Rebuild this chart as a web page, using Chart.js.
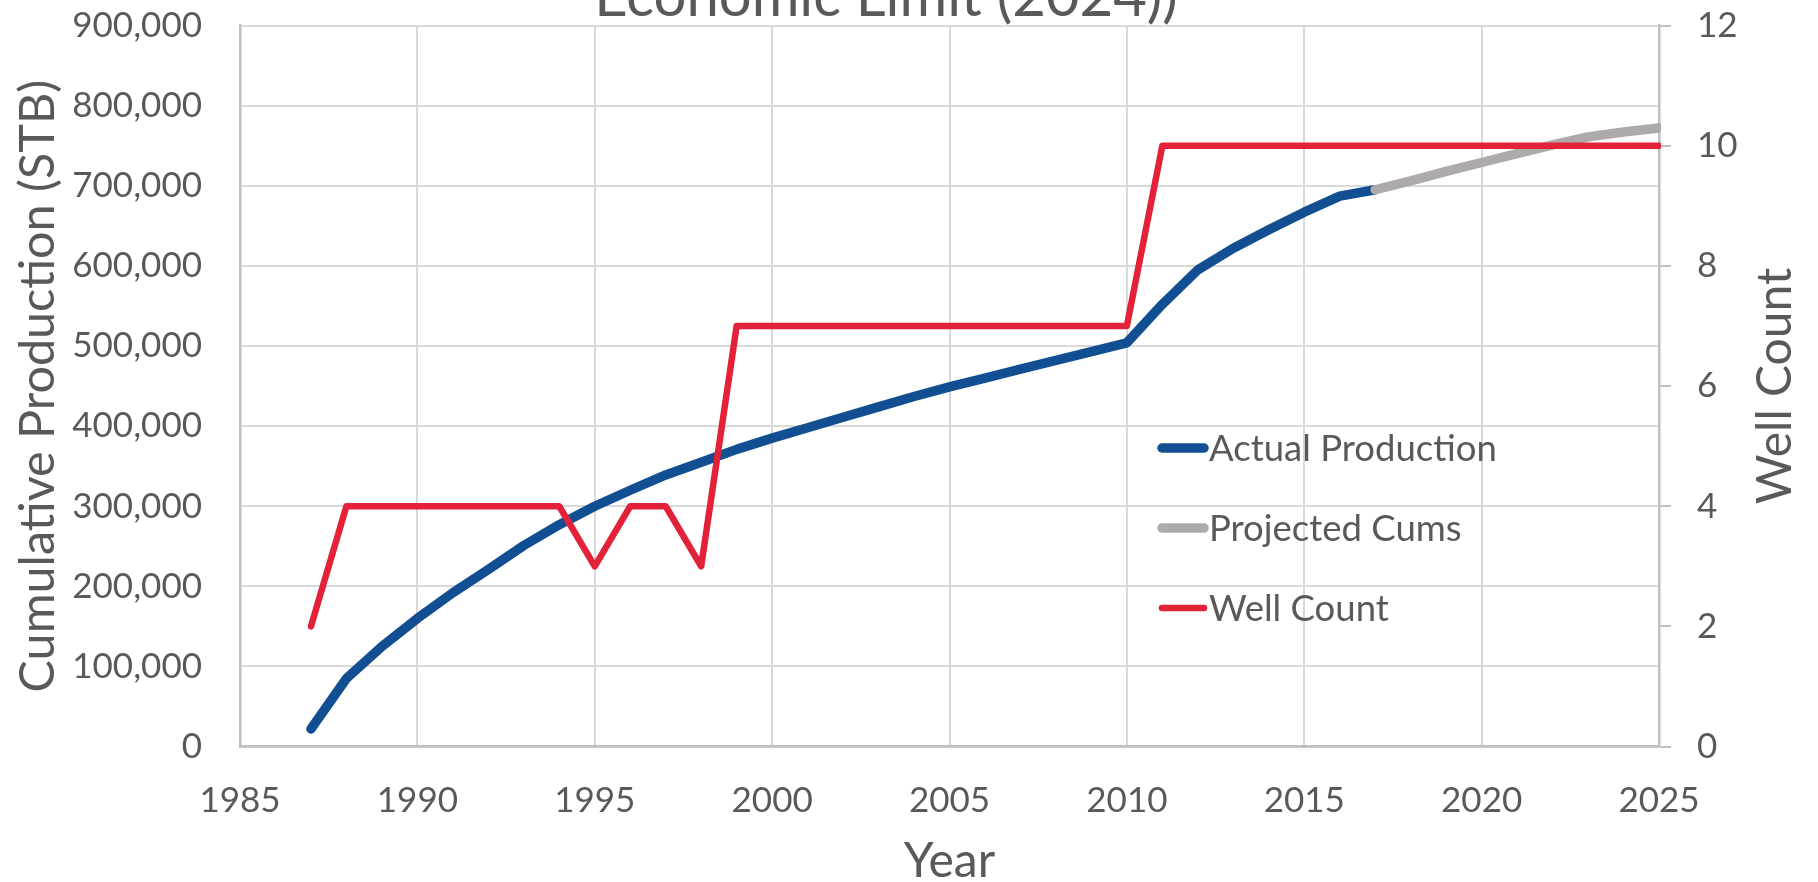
<!DOCTYPE html>
<html>
<head>
<meta charset="utf-8">
<title>Cumulative Production and Well Count</title>
<script src="https://cdn.jsdelivr.net/npm/chart.js@4.4.1/dist/chart.umd.min.js"></script>
<style>
  html, body { margin: 0; padding: 0; background: #ffffff; }
  #wrap { position: relative; width: 1818px; height: 882px; }
</style>
</head>
<body>
<div id="wrap"><canvas id="prodChart"></canvas></div>
<script>
// ── Data ───────────────────────────────────────────────────────────────────────

const actualYears = [1987, 1988, 1989, 1990, 1991, 1992, 1993, 1994, 1995, 1996,
                     1997, 1998, 1999, 2000, 2001, 2002, 2003, 2004, 2005, 2006,
                     2007, 2008, 2009, 2010, 2011, 2012, 2013, 2014, 2015, 2016, 2017];
const actualCum   = [22000, 85000, 125000, 160000, 192000, 221000, 251000, 277000, 300000, 320000,
                     339000, 355000, 371000, 385000, 398000, 411000, 424000, 437000, 449000, 460000,
                     471000, 482000, 493000, 504000, 552000, 595000, 622000, 645000, 667000, 687000, 695000];

const projYears = [2017, 2018, 2019, 2020, 2021, 2022, 2023, 2024, 2025];
const projCum   = [695000, 706000, 718000, 729000, 740000, 751000, 761000, 767000, 772000];

const wellYears  = [1987, 1988, 1989, 1990, 1991, 1992, 1993, 1994, 1995, 1996,
                    1997, 1998, 1999, 2000, 2001, 2002, 2003, 2004, 2005, 2006,
                    2007, 2008, 2009, 2010, 2011, 2012, 2013, 2014, 2015, 2016,
                    2017, 2018, 2019, 2020, 2021, 2022, 2023, 2024, 2025];
const wellCounts = [2, 4, 4, 4, 4, 4, 4, 4, 3, 4,
                    4, 3, 7, 7, 7, 7, 7, 7, 7, 7,
                    7, 7, 7, 7, 10, 10, 10, 10, 10, 10,
                    10, 10, 10, 10, 10, 10, 10, 10, 10];

const yearTicks = [1985, 1990, 1995, 2000, 2005, 2010, 2015, 2020, 2025];
const cumTicks  = [0, 100000, 200000, 300000, 400000, 500000, 600000, 700000, 800000, 900000];
const wellTicks = [0, 2, 4, 6, 8, 10, 12];

// ── Style ──────────────────────────────────────────────────────────────────────

const FONT      = 'Lato, "Open Sans", sans-serif';
const TEXT      = '#595959';
const GRID      = '#d9d9d9';
const AXIS      = '#bfbfbf';
const BLUE      = '#124f92';
const GRAY      = '#aeaaaa';
const RED       = '#e3223a';

const pairs = (xs, ys) => xs.map((x, i) => ({ x, y: ys[i] }));
const setTicks = list => scale => { scale.ticks = list.map(v => ({ value: v })); };

// vertical axes: fixed width, and don't let tick padding push the plot down
const fixWidth = w => s => { s.width = w; s.paddingTop = 0; s.paddingBottom = 0; };

// ── Plugins ────────────────────────────────────────────────────────────────────

// Title is partly cut off at the top edge, like the source image
const topTitle = {
  id: 'topTitle',
  afterDraw(chart) {
    const ctx = chart.ctx;
    ctx.save();
    ctx.fillStyle = TEXT;
    ctx.font = `58px ${FONT}`;
    ctx.textAlign = 'center';
    ctx.textBaseline = 'alphabetic';
    ctx.fillText('Economic Limit (2024))', 886, 16);
    ctx.restore();
  }
};

// Right axis title reads bottom-to-top (Chart.js would rotate it the other way)
const rightTitle = {
  id: 'rightTitle',
  afterDraw(chart) {
    const ctx = chart.ctx;
    ctx.save();
    ctx.translate(1776, 386);
    ctx.rotate(-Math.PI / 2);
    ctx.fillStyle = TEXT;
    ctx.font = `48px ${FONT}`;
    ctx.textAlign = 'center';
    ctx.textBaseline = 'middle';
    ctx.fillText('Well Count', 0, 0);
    ctx.restore();
  }
};

// Legend sits inside the plot area
const innerLegend = {
  id: 'innerLegend',
  afterDraw(chart) {
    const ctx = chart.ctx;
    const rows = [448, 528, 608];
    ctx.save();
    ctx.font = `36.5px ${FONT}`;
    ctx.textBaseline = 'middle';
    ctx.textAlign = 'left';
    chart.data.datasets.forEach((ds, i) => {
      const y = rows[i];
      ctx.strokeStyle = ds.borderColor;
      ctx.lineWidth = ds.borderWidth;
      ctx.lineCap = 'round';
      ctx.beginPath();
      ctx.moveTo(1162, y);
      ctx.lineTo(1204, y);
      ctx.stroke();
      ctx.fillStyle = TEXT;
      ctx.fillText(ds.label, 1209, y + 1);
    });
    ctx.restore();
  }
};

// ── Chart ──────────────────────────────────────────────────────────────────────

const lineStyle = {
  pointRadius: 0, tension: 0, fill: false,
  borderCapStyle: 'round', borderJoinStyle: 'round',
  clip: { left: 6, top: 6, right: 2, bottom: 6 }   // lines stop flush at the right axis
};

new Chart(document.getElementById('prodChart').getContext('2d'), {
  type: 'line',
  data: {
    datasets: [
      { label: 'Actual Production', data: pairs(actualYears, actualCum), yAxisID: 'y',
        borderColor: BLUE, borderWidth: 9.5, order: 3, ...lineStyle },
      { label: 'Projected Cums', data: pairs(projYears, projCum), yAxisID: 'y',
        borderColor: GRAY, borderWidth: 9.5, order: 2, ...lineStyle },
      { label: 'Well Count', data: pairs(wellYears, wellCounts), yAxisID: 'y1',
        borderColor: RED, borderWidth: 6.5, order: 1, ...lineStyle }
    ]
  },
  options: {
    responsive: true, maintainAspectRatio: false,
    animation: false,
    layout: { padding: { top: 25.5, left: 0, right: 0, bottom: 0 } },
    plugins: { legend: { display: false }, tooltip: { enabled: false } },
    scales: {
      x: {
        type: 'linear', min: 1985, max: 2025,
        afterBuildTicks: setTicks(yearTicks),
        afterFit: s => { s.height = 135.4; },
        grid: { color: GRID, lineWidth: 2, drawTicks: false },
        border: { color: AXIS, width: 2.5 },
        ticks: { color: TEXT, font: { family: FONT, size: 35 }, padding: 33,
                 maxRotation: 0, autoSkip: false, callback: v => String(v) },
        title: { display: true, text: 'Year', color: TEXT,
                 font: { family: FONT, size: 48, lineHeight: 1 }, padding: { top: 0, bottom: -3.5 } }
      },
      y: {
        position: 'left', min: 0, max: 900000,
        afterBuildTicks: setTicks(cumTicks),
        afterFit: fixWidth(240),
        grid: { color: GRID, lineWidth: 2, drawTicks: false },
        border: { color: AXIS, width: 2.5 },
        ticks: { color: TEXT, font: { family: FONT, size: 35 }, padding: 38,
                 callback: v => v.toLocaleString('en-US') },
        title: { display: true, text: 'Cumulative Production (STB)', color: TEXT,
                 font: { family: FONT, size: 48.5, lineHeight: 1 }, padding: { top: 14, bottom: 0 } }
      },
      y1: {
        position: 'right', min: 0, max: 12,
        afterBuildTicks: setTicks(wellTicks),
        afterFit: fixWidth(159),
        grid: { drawOnChartArea: false, color: AXIS, lineWidth: 2, tickLength: 12 },
        border: { color: AXIS, width: 2.5 },
        ticks: { color: TEXT, font: { family: FONT, size: 35 }, padding: 26 }
      }
    }
  },
  plugins: [topTitle, rightTitle, innerLegend]
});
</script>
</body>
</html>
